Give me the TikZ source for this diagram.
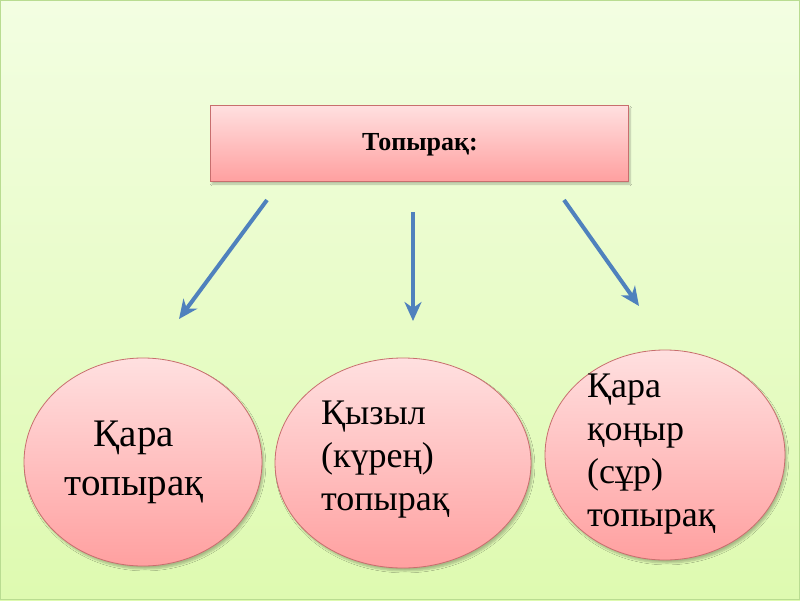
\documentclass[tikz,border=0pt]{standalone}
\usepackage{fontspec}
\setmainfont{Liberation Serif}
\usetikzlibrary{arrows.meta,shadows.blur,shapes.geometric}
\definecolor{bgtop}{RGB}{243,254,226}
\definecolor{bgbot}{RGB}{222,250,176}
\definecolor{bgedge}{RGB}{185,220,145}
\definecolor{pinktop}{RGB}{255,224,224}
\definecolor{pinkbot}{RGB}{255,160,160}
\definecolor{pinkedge}{RGB}{200,110,110}
\definecolor{arrowblue}{RGB}{79,129,189}
\tikzset{
  pinkshape/.style={draw=pinkedge, line width=0.8pt, top color=pinktop, bottom color=pinkbot,
    blur shadow={shadow xshift=2pt, shadow yshift=-3pt, shadow blur steps=6, shadow opacity=25}},
  headbox/.style={pinkshape, rectangle, minimum width=418pt, minimum height=76pt, inner sep=0pt},
  soilellipse/.style={pinkshape, ellipse, inner sep=0pt},
  soiltext/.style={font=\fontsize{36}{43}\selectfont, inner sep=0pt},
  bigsoiltext/.style={font=\fontsize{39}{49}\selectfont, inner sep=0pt},
  bluearrow/.style={draw=arrowblue, line width=4pt, -{Stealth[length=19pt,width=17pt,inset=6pt]}}
}
\begin{document}
\begin{tikzpicture}[x=1pt,y=-1pt]
  \useasboundingbox (0,0) rectangle (800,600);
  \shade[top color=bgtop, bottom color=bgbot] (0,0) rectangle (800,600);
  \draw[bgedge, line width=1.2pt] (0.6,0.6) rectangle (799.4,599.4);

  \node[headbox] (head) at (419,143) {};
  \node[font=\fontsize{26}{30}\selectfont\bfseries] (headtext) at (420,145) {Топырақ:};

  \node[soilellipse, minimum width=238pt, minimum height=208pt] (e1) at (143,462) {};
  \node[soilellipse, minimum width=256pt, minimum height=210pt] (e2) at (403,463) {};
  \node[soilellipse, minimum width=240pt, minimum height=210pt] (e3) at (665,455) {};

  \node[bigsoiltext, align=center] (t1) at (134,462) {Қара\\топырақ};
  \node[soiltext, align=left, anchor=west] (t2) at (321,460) {Қызыл\\(күрең)\\топырақ};
  \node[soiltext, align=left, anchor=west] (t3) at (587,454) {Қара\\қоңыр\\(сұр)\\топырақ};

  \coordinate (a1s) at (267,200);
  \coordinate (a1e) at (179,319);
  \coordinate (a2s) at (413,212);
  \coordinate (a2e) at (413,321);
  \coordinate (a3s) at (564,200);
  \coordinate (a3e) at (639,306);
  \draw[bluearrow] (a1s) -- (a1e);
  \draw[bluearrow] (a2s) -- (a2e);
  \draw[bluearrow] (a3s) -- (a3e);
\end{tikzpicture}
\end{document}
